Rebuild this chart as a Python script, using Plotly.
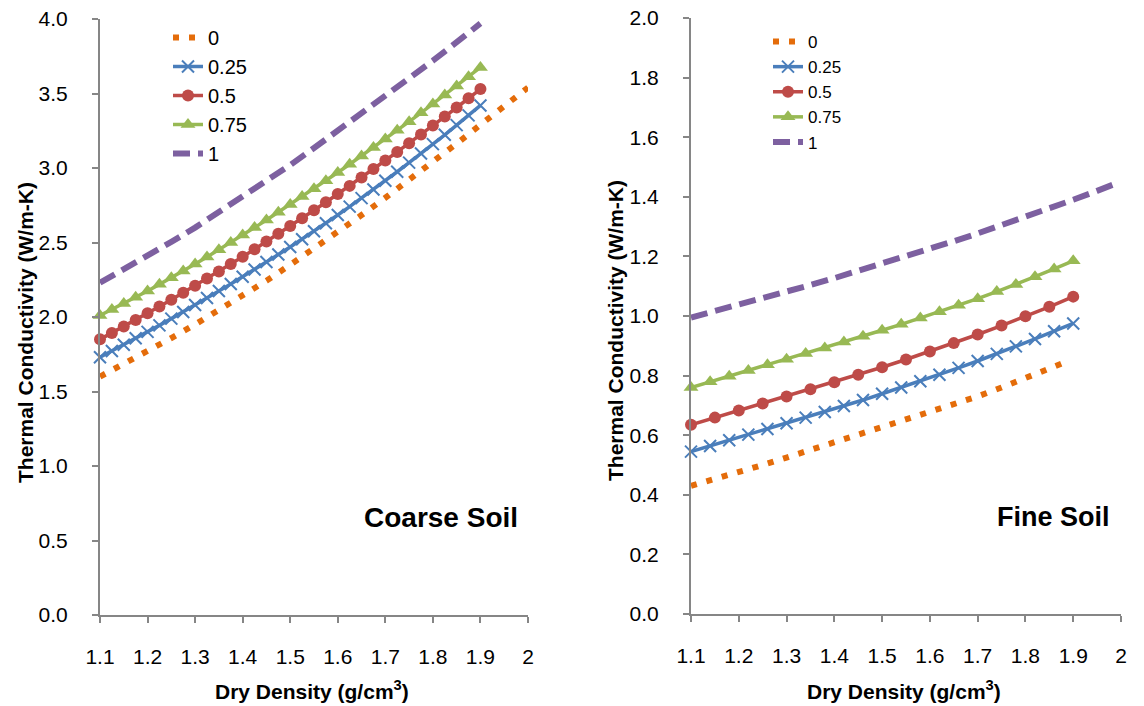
import plotly.graph_objects as go

# ---------------- data ----------------
series_names = ["0", "0.25", "0.5", "0.75", "1"]

x_tick_vals = [1.1, 1.2, 1.3, 1.4, 1.5, 1.6, 1.7, 1.8, 1.9, 2.0]
x_tick_text = ["1.1", "1.2", "1.3", "1.4", "1.5", "1.6", "1.7", "1.8", "1.9", "2"]
coarse_y_ticks = [0.0, 0.5, 1.0, 1.5, 2.0, 2.5, 3.0, 3.5, 4.0]
coarse_y_text = ["0.0", "0.5", "1.0", "1.5", "2.0", "2.5", "3.0", "3.5", "4.0"]
fine_y_ticks = [0.0, 0.2, 0.4, 0.6, 0.8, 1.0, 1.2, 1.4, 1.6, 1.8, 2.0]
fine_y_text = ["0.0", "0.2", "0.4", "0.6", "0.8", "1.0", "1.2", "1.4", "1.6", "1.8", "2.0"]

# Coarse soil
coarse_x_s0 = [1.10, 1.15, 1.20, 1.25, 1.30, 1.35, 1.40, 1.45, 1.50, 1.55,
               1.60, 1.65, 1.70, 1.75, 1.80, 1.85, 1.90, 1.95, 2.00]
coarse_s0 = [1.600, 1.684, 1.770, 1.859, 1.950, 2.044, 2.140, 2.243, 2.350, 2.458,
             2.570, 2.684, 2.800, 2.919, 3.040, 3.164, 3.290, 3.415, 3.540]

coarse_x_mk = [1.100, 1.125, 1.150, 1.175, 1.200, 1.225, 1.250, 1.275, 1.300, 1.325,
               1.350, 1.375, 1.400, 1.425, 1.450, 1.475, 1.500, 1.525, 1.550, 1.575,
               1.600, 1.625, 1.650, 1.675, 1.700, 1.725, 1.750, 1.775, 1.800, 1.825,
               1.850, 1.875, 1.900]
coarse_s025 = [1.730, 1.772, 1.814, 1.857, 1.900, 1.944, 1.989, 2.034, 2.080, 2.127,
               2.174, 2.222, 2.270, 2.319, 2.369, 2.419, 2.470, 2.522, 2.575, 2.629,
               2.685, 2.741, 2.798, 2.856, 2.915, 2.975, 3.036, 3.097, 3.160, 3.223,
               3.288, 3.353, 3.420]
coarse_s050 = [1.850, 1.893, 1.937, 1.980, 2.025, 2.070, 2.116, 2.163, 2.210, 2.258,
               2.306, 2.355, 2.405, 2.455, 2.506, 2.558, 2.610, 2.663, 2.716, 2.770,
               2.825, 2.880, 2.936, 2.993, 3.050, 3.108, 3.166, 3.225, 3.285, 3.345,
               3.406, 3.468, 3.530]
coarse_s075 = [2.010, 2.050, 2.091, 2.133, 2.175, 2.219, 2.263, 2.309, 2.355, 2.403,
               2.451, 2.500, 2.550, 2.600, 2.651, 2.703, 2.755, 2.808, 2.861, 2.915,
               2.970, 3.025, 3.081, 3.138, 3.195, 3.253, 3.311, 3.370, 3.430, 3.490,
               3.551, 3.613, 3.675]

coarse_x_s1 = [1.10, 1.15, 1.20, 1.25, 1.30, 1.35, 1.40, 1.45, 1.50, 1.55,
               1.60, 1.65, 1.70, 1.75, 1.80, 1.85, 1.90]
coarse_s1 = [2.230, 2.319, 2.410, 2.504, 2.600, 2.704, 2.810, 2.914, 3.020, 3.134,
             3.250, 3.364, 3.480, 3.599, 3.720, 3.844, 3.970]

# Fine soil
fine_x_s0 = [1.10, 1.15, 1.20, 1.25, 1.30, 1.35, 1.40, 1.45, 1.50, 1.55,
             1.60, 1.65, 1.70, 1.75, 1.80, 1.85, 1.88]
fine_s0 = [0.430, 0.452, 0.475, 0.500, 0.525, 0.550, 0.575, 0.600, 0.625, 0.650,
           0.675, 0.702, 0.730, 0.760, 0.790, 0.822, 0.843]

fine_x_04 = [1.10, 1.14, 1.18, 1.22, 1.26, 1.30, 1.34, 1.38, 1.42, 1.46,
             1.50, 1.54, 1.58, 1.62, 1.66, 1.70, 1.74, 1.78, 1.82, 1.86, 1.90]
fine_s025 = [0.545, 0.564, 0.583, 0.602, 0.621, 0.640, 0.659, 0.678, 0.698, 0.718,
             0.739, 0.760, 0.781, 0.803, 0.826, 0.849, 0.873, 0.898, 0.923, 0.949, 0.975]
fine_s075 = [0.760, 0.779, 0.798, 0.817, 0.836, 0.855, 0.874, 0.893, 0.913, 0.932,
             0.952, 0.972, 0.993, 1.014, 1.036, 1.058, 1.082, 1.106, 1.132, 1.158, 1.185]

fine_x_05 = [1.10, 1.15, 1.20, 1.25, 1.30, 1.35, 1.40, 1.45, 1.50, 1.55,
             1.60, 1.65, 1.70, 1.75, 1.80, 1.85, 1.90]
fine_s050 = [0.635, 0.659, 0.683, 0.706, 0.730, 0.754, 0.778, 0.803, 0.828, 0.854,
             0.881, 0.909, 0.938, 0.968, 0.999, 1.031, 1.065]

fine_x_s1 = [1.10, 1.15, 1.20, 1.25, 1.30, 1.35, 1.40, 1.45, 1.50, 1.55,
             1.60, 1.65, 1.70, 1.75, 1.80, 1.85, 1.90, 1.95, 1.99]
fine_s1 = [0.995, 1.016, 1.037, 1.059, 1.081, 1.104, 1.127, 1.151, 1.175, 1.200,
           1.225, 1.251, 1.277, 1.304, 1.332, 1.361, 1.390, 1.420, 1.445]

# ---------------- styles ----------------
ORANGE = "#E46C0A"
BLUE = "#4A7EBB"
RED = "#BE4B48"
GREEN = "#98B954"
PURPLE = "#7D60A0"
AXIS = "#868686"
FONT = "Liberation Sans, Arial, sans-serif"

fig = go.Figure()


def add_panel(xa, ya, legend, data, mk_size):
    (x0, y0), (x25, y25), (x50, y50), (x75, y75), (x1, y1) = data
    fig.add_trace(go.Scatter(
        x=x0, y=y0, name=series_names[0], mode="lines", xaxis=xa, yaxis=ya, legend=legend,
        line=dict(color=ORANGE, width=6, dash="6px,10px"), cliponaxis=False))
    fig.add_trace(go.Scatter(
        x=x25, y=y25, name=series_names[1], mode="lines+markers", xaxis=xa, yaxis=ya, legend=legend,
        line=dict(color=BLUE, width=3.5),
        marker=dict(symbol="x-thin", size=mk_size, line=dict(color=BLUE, width=2)),
        cliponaxis=False))
    fig.add_trace(go.Scatter(
        x=x50, y=y50, name=series_names[2], mode="lines+markers", xaxis=xa, yaxis=ya, legend=legend,
        line=dict(color=RED, width=3.5),
        marker=dict(symbol="circle", size=mk_size, color=RED),
        cliponaxis=False))
    fig.add_trace(go.Scatter(
        x=x75, y=y75, name=series_names[3], mode="lines+markers", xaxis=xa, yaxis=ya, legend=legend,
        line=dict(color=GREEN, width=3.5),
        marker=dict(symbol="triangle-up", size=mk_size + 1, color=GREEN),
        cliponaxis=False))
    fig.add_trace(go.Scatter(
        x=x1, y=y1, name=series_names[4], mode="lines", xaxis=xa, yaxis=ya, legend=legend,
        line=dict(color=PURPLE, width=6, dash="17px,8px"), cliponaxis=False))


add_panel("x", "y", "legend",
          [(coarse_x_s0, coarse_s0), (coarse_x_mk, coarse_s025), (coarse_x_mk, coarse_s050),
           (coarse_x_mk, coarse_s075), (coarse_x_s1, coarse_s1)], 12)
add_panel("x2", "y2", "legend2",
          [(fine_x_s0, fine_s0), (fine_x_04, fine_s025), (fine_x_05, fine_s050),
           (fine_x_04, fine_s075), (fine_x_s1, fine_s1)], 12)

W, H = 1144, 706


def px_x(p):
    return p / W


def px_y(p):
    return (H - p) / H


common_x = dict(range=[1.1, 2.0], tickmode="array", tickvals=x_tick_vals, ticktext=x_tick_text,
                ticks="outside", ticklen=6, tickwidth=1.5, tickcolor=AXIS, automargin=False,
                showline=True, linecolor=AXIS, linewidth=2, showgrid=False, zeroline=False,
                tickfont=dict(family=FONT, size=21, color="black"), ticklabelstandoff=16)
common_y = dict(ticks="outside", ticklen=6, tickwidth=1.5, tickcolor=AXIS, automargin=False,
                showline=True, linecolor=AXIS, linewidth=2, showgrid=False, zeroline=False,
                tickfont=dict(family=FONT, size=21, color="black"), ticklabelstandoff=20,
                tickmode="array")

fig.update_layout(
    width=W, height=H, margin=dict(l=0, r=0, t=0, b=0, autoexpand=False),
    paper_bgcolor="white", plot_bgcolor="white",
    xaxis=dict(domain=[px_x(100), px_x(528)], anchor="y", **common_x),
    yaxis=dict(domain=[px_y(615), px_y(19)], anchor="x", range=[0, 4],
               tickvals=coarse_y_ticks, ticktext=coarse_y_text, **common_y),
    xaxis2=dict(domain=[px_x(691), px_x(1121)], anchor="y2", **common_x),
    yaxis2=dict(domain=[px_y(614), px_y(18)], anchor="x2", range=[0, 2],
                tickvals=fine_y_ticks, ticktext=fine_y_text, **common_y),
    legend=dict(x=px_x(168), y=px_y(18), xanchor="left", yanchor="top",
                bgcolor="rgba(0,0,0,0)", font=dict(family=FONT, size=20, color="black")),
    legend2=dict(x=px_x(768), y=px_y(24), xanchor="left", yanchor="top",
                 bgcolor="rgba(0,0,0,0)", font=dict(family=FONT, size=17, color="black")),
    showlegend=True,
)

title_font = dict(family=FONT, size=21, color="black")
annos = [
    dict(text="<b>Thermal Conductivity (W/m-K)</b>", x=px_x(25), y=px_y(333), textangle=-90,
         font=title_font),
    dict(text="<b>Thermal Conductivity (W/m-K)</b>", x=px_x(615), y=px_y(331), textangle=-90,
         font=title_font),
    dict(text="<b>Dry Density (g/cm<sup>3</sup>)</b>", x=px_x(312), y=px_y(690), font=title_font),
    dict(text="<b>Dry Density (g/cm<sup>3</sup>)</b>", x=px_x(904), y=px_y(690), font=title_font),
    dict(text="<b>Coarse Soil</b>", x=px_x(441), y=px_y(517),
         font=dict(family=FONT, size=28, color="black")),
    dict(text="<b>Fine Soil</b>", x=px_x(1053), y=px_y(517),
         font=dict(family=FONT, size=27, color="black")),
]
for a in annos:
    fig.add_annotation(xref="paper", yref="paper", xanchor="center", yanchor="middle",
                       showarrow=False, **a)

fig.write_html("out.html")
